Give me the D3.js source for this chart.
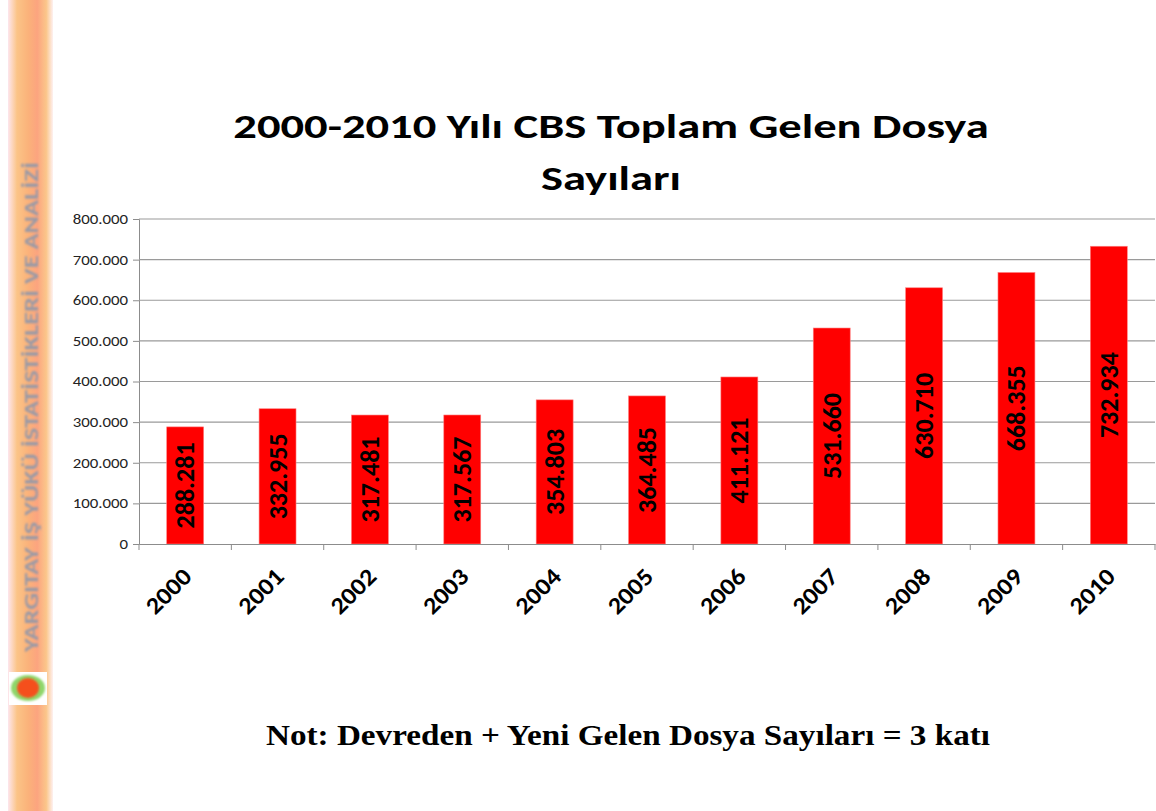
<!DOCTYPE html>
<html>
<head>
<meta charset="utf-8">
<script src="https://cdn.jsdelivr.net/npm/d3@7"></script>
<style>
  body { margin: 0; background: #fff; }
  svg { display: block; }
</style>
</head>
<body>
<svg width="1156" height="811"></svg>
<script>
const years = ['2000', '2001', '2002', '2003', '2004', '2005', '2006', '2007', '2008', '2009', '2010'];
const files = [288281, 332955, 317481, 317567, 354803, 364485, 411121, 531660, 630710, 668355, 732934];
const yTicks = [0, 100000, 200000, 300000, 400000, 500000, 600000, 700000, 800000];
const titleLines = ['2000-2010 Yılı CBS Toplam Gelen Dosya', 'Sayıları'];
const note = 'Not: Devreden + Yeni Gelen Dosya Sayıları = 3 katı';
const sideText = 'YARGITAY  İŞ YÜKÜ İSTATİSTİKLERİ VE ANALİZİ';

const svg = d3.select('svg');
const font = 'Carlito, Lato, sans-serif';
const m = { left: 139, right: 1155, top: 219, bottom: 544 };

// dotted thousands, like "800.000"
const fmt = v => (v === 0 ? '0' : d3.format(',')(v).replace(/,/g, '.'));

// the slide is stretched sideways, so widen text to match
function stretch(sel, k) {
  sel.each(function () {
    const w = this.getComputedTextLength();
    d3.select(this).attr('textLength', w * k).attr('lengthAdjust', 'spacingAndGlyphs');
  });
}

// left decorative strip
const defs = svg.append('defs');
const grad = defs.append('linearGradient').attr('id', 'strip');
[['0%', '#fde6ee'], ['20%', '#fbc487'], ['45%', '#fbb27a'], ['65%', '#fca47f'],
 ['85%', '#fbc68a'], ['100%', '#fef1f1']].forEach(([o, c]) =>
  grad.append('stop').attr('offset', o).attr('stop-color', c));
defs.append('filter').attr('id', 'blur')
  .append('feGaussianBlur').attr('stdDeviation', 0.8);

svg.append('rect').attr('x', 8).attr('y', 0).attr('width', 45).attr('height', 811)
  .attr('fill', 'url(#strip)');
svg.append('text')
  .attr('transform', 'translate(38,652) rotate(-90)')
  .attr('font-family', font).attr('font-weight', 'bold').attr('font-size', 21)
  .attr('fill', '#9a9aa6').attr('filter', 'url(#blur)')
  .attr('textLength', 490).attr('lengthAdjust', 'spacingAndGlyphs')
  .text(sideText);
svg.append('rect').attr('x', 9).attr('y', 672).attr('width', 38).attr('height', 33)
  .attr('fill', '#fff');
svg.append('ellipse').attr('cx', 28).attr('cy', 688).attr('rx', 17).attr('ry', 13)
  .attr('fill', '#8fd66a').attr('filter', 'url(#blur)');
svg.append('ellipse').attr('cx', 28).attr('cy', 688).attr('rx', 11).attr('ry', 10)
  .attr('fill', '#f5501e').attr('filter', 'url(#blur)');

// scales
const x = d3.scaleBand().domain(years).range([m.left, m.right]);
const y = d3.scaleLinear().domain([0, 800000]).range([m.bottom, m.top]);
const barW = x.bandwidth() * 0.4;

// y axis
const yAxis = svg.append('g')
  .attr('transform', `translate(${m.left},0)`)
  .call(d3.axisLeft(y).tickValues(yTicks).tickFormat(fmt).tickSize(6).tickPadding(5));
yAxis.select('.domain').attr('stroke', '#8c8c8c');
yAxis.selectAll('.tick line').attr('stroke', '#8c8c8c');
yAxis.selectAll('.tick text')
  .attr('font-family', font).attr('font-size', 14).attr('fill', '#222')
  .call(stretch, 1.2);

// gridlines
svg.append('g').selectAll('line').data(yTicks.slice(1)).join('line')
  .attr('x1', m.left).attr('x2', m.right)
  .attr('y1', d => y(d)).attr('y2', d => y(d))
  .attr('stroke', '#9a9a9a').attr('stroke-width', 1.2);

// bars
svg.append('g').selectAll('rect').data(files).join('rect')
  .attr('x', (d, i) => x(years[i]) + (x.bandwidth() - barW) / 2)
  .attr('y', d => y(d))
  .attr('width', barW)
  .attr('height', d => y(0) - y(d))
  .attr('fill', '#ff0000')
  .attr('stroke', '#ff8080').attr('stroke-width', 0.6);

// value labels, rotated inside each bar
svg.append('g').selectAll('text').data(files).join('text')
  .attr('transform', (d, i) =>
    `translate(${x(years[i]) + x.bandwidth() / 2 + 9},${(y(d) + y(0)) / 2}) rotate(-90)`)
  .attr('text-anchor', 'middle')
  .attr('font-family', font).attr('font-weight', 'bold').attr('font-size', 26)
  .attr('fill', '#000')
  .text(fmt);

// x axis
const xAxis = svg.append('g')
  .attr('transform', `translate(0,${m.bottom})`)
  .call(d3.axisBottom(x).tickSize(0).tickFormat(''));
xAxis.select('.domain').attr('stroke', '#8c8c8c');
svg.append('g').selectAll('line').data(years.concat(['end'])).join('line')
  .attr('x1', (d, i) => m.left + i * x.step()).attr('x2', (d, i) => m.left + i * x.step())
  .attr('y1', m.bottom).attr('y2', m.bottom + 6)
  .attr('stroke', '#8c8c8c');

svg.append('g').selectAll('text').data(years).join('text')
  .attr('transform', d => `translate(${x(d) + x.bandwidth() / 2 + 8},${m.bottom + 34}) rotate(-45)`)
  .attr('text-anchor', 'end')
  .attr('font-family', font).attr('font-weight', 'bold').attr('font-size', 24)
  .attr('fill', '#000')
  .text(d => d)
  .call(stretch, 1.1);

// title
svg.append('g').selectAll('text').data(titleLines).join('text')
  .attr('x', 611).attr('y', (d, i) => 138 + i * 52)
  .attr('text-anchor', 'middle')
  .attr('font-family', font).attr('font-weight', 'bold').attr('font-size', 35)
  .attr('fill', '#000')
  .text(d => d)
  .call(stretch, 1.33);

// note
svg.append('text')
  .attr('x', 628).attr('y', 745)
  .attr('text-anchor', 'middle')
  .attr('font-family', '"Liberation Serif", "Times New Roman", serif')
  .attr('font-weight', 'bold').attr('font-size', 29)
  .attr('fill', '#000')
  .text(note)
  .attr('textLength', 724).attr('lengthAdjust', 'spacingAndGlyphs');
</script>
</body>
</html>
